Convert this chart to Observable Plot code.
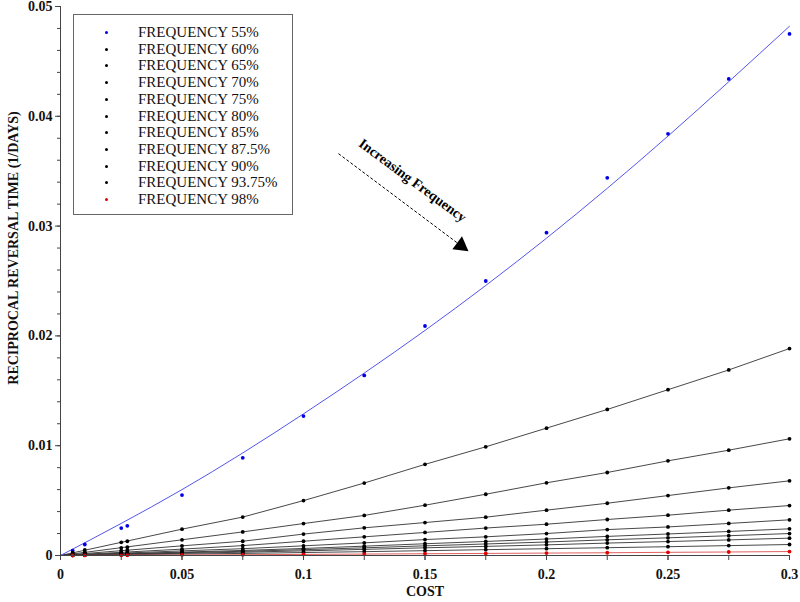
<!DOCTYPE html>
<html>
<head>
<meta charset="utf-8">
<script src="https://cdn.jsdelivr.net/npm/d3@7"></script>
<script src="https://cdn.jsdelivr.net/npm/@observablehq/plot@0.6"></script>
<style>
  html, body { margin: 0; padding: 0; background: #fff; }
  #wrap { position: relative; width: 800px; height: 602px; font-family: "Liberation Serif", "Times New Roman", serif; }
  #legend { position: absolute; left: 73px; top: 14px; width: 220px; height: 201px; border: 1px solid #666; background: #fff; box-sizing: border-box; }
  .row { position: absolute; left: 0; height: 16px; width: 100%; }
  .row .dot { position: absolute; left: 31px; top: 7px; width: 3px; height: 3px; border-radius: 50%; }
  .row .lab { position: absolute; left: 64px; top: -1px; font-size: 15px; line-height: 18px; color: #111; white-space: nowrap; }
  #ylab { position: absolute; left: 14px; top: 248px; transform: translate(-50%, -50%) rotate(-90deg); font-weight: bold; font-size: 14px; white-space: nowrap; color: #111; }
  #xlab { position: absolute; left: 425px; top: 584px; transform: translateX(-50%); font-weight: bold; font-size: 14px; color: #111; }
</style>
</head>
<body>
<div id="wrap">
  <div id="chart"></div>
  <div id="legend"></div>
  <div id="ylab">RECIPROCAL REVERSAL TIME (1/DAYS)</div>
  <div id="xlab">COST</div>
</div>
<script>
// ---- data ----
const costs = [0.005, 0.01, 0.025, 0.0275, 0.05, 0.075, 0.1, 0.125, 0.15, 0.175, 0.2, 0.225, 0.25, 0.275, 0.3];

const freq55   = [0.00045, 0.001, 0.0025, 0.0027, 0.0055, 0.0089, 0.0127, 0.0164, 0.0209, 0.025, 0.0294, 0.0344, 0.0384, 0.0434, 0.0475];
const freq60   = [0.00025, 0.0005, 0.0012, 0.0013, 0.0024, 0.0035, 0.0050, 0.0066, 0.0083, 0.0099, 0.0116, 0.0133, 0.0151, 0.0169, 0.01885];
const freq65   = [0.00015, 0.0003, 0.0007, 0.00075, 0.00143, 0.00215, 0.00291, 0.00365, 0.00458, 0.00558, 0.00662, 0.00756, 0.00862, 0.00959, 0.01063];
const freq70   = [0.00009, 0.00018, 0.00044, 0.00048, 0.00088, 0.0013, 0.00195, 0.00252, 0.003, 0.00349, 0.00413, 0.00476, 0.00546, 0.00616, 0.0068];
const freq75   = [0.00006, 0.00012, 0.0003, 0.00032, 0.00058, 0.0009, 0.0013, 0.0017, 0.0021, 0.0025, 0.00285, 0.00328, 0.00367, 0.00413, 0.00455];
const freq80   = [0.00004, 0.00009, 0.00021, 0.00023, 0.00042, 0.00062, 0.00088, 0.00115, 0.00145, 0.0017, 0.002, 0.00236, 0.0026, 0.00292, 0.00325];
const freq85   = [0.00003, 0.00007, 0.00016, 0.00017, 0.00031, 0.00046, 0.00064, 0.00085, 0.00107, 0.00128, 0.0015, 0.00174, 0.00196, 0.00219, 0.00243];
const freq875  = [0.00003, 0.00005, 0.00013, 0.00014, 0.00026, 0.00038, 0.00053, 0.0007, 0.00088, 0.00105, 0.00123, 0.00143, 0.00161, 0.0018, 0.002];
const freq90   = [0.00002, 0.00004, 0.0001, 0.00011, 0.0002, 0.0003, 0.00042, 0.00056, 0.0007, 0.00083, 0.00097, 0.00113, 0.00127, 0.00142, 0.00158];
const freq9375 = [0.00001, 0.00003, 0.00006, 0.00007, 0.00013, 0.00019, 0.00027, 0.00035, 0.00044, 0.00053, 0.00062, 0.00071, 0.0008, 0.0009, 0.001];
const freq98   = [0.000005, 0.00001, 0.00002, 0.000025, 0.00005, 0.00007, 0.0001, 0.00013, 0.00016, 0.00019, 0.00022, 0.00025, 0.00029, 0.00032, 0.00036];

// fitted curve for the 55% series
const fitCost = [0, 0.05, 0.1, 0.15, 0.2, 0.25, 0.3];
const fit55   = [0, 0.006, 0.0129, 0.0205, 0.0289, 0.0382, 0.0482];

const seriesNames = ["FREQUENCY 55%", "FREQUENCY 60%", "FREQUENCY 65%", "FREQUENCY 70%", "FREQUENCY 75%", "FREQUENCY 80%", "FREQUENCY 85%", "FREQUENCY 87.5%", "FREQUENCY 90%", "FREQUENCY 93.75%", "FREQUENCY 98%"];
const seriesValues = [freq55, freq60, freq65, freq70, freq75, freq80, freq85, freq875, freq90, freq9375, freq98];
const seriesColors = ["#0000e6", "#000000", "#000000", "#000000", "#000000", "#000000", "#000000", "#000000", "#000000", "#000000", "#e00000"];
const lineColors   = ["#5555ee", "#333333", "#333333", "#333333", "#333333", "#333333", "#333333", "#333333", "#333333", "#333333", "#e06060"];

const xTicks = [0, 0.05, 0.1, 0.15, 0.2, 0.25, 0.3];
const xMinorTicks = [0, 0.025, 0.05, 0.075, 0.1, 0.125, 0.15, 0.175, 0.2, 0.225, 0.25, 0.275, 0.3];
const yTicks = [0, 0.01, 0.02, 0.03, 0.04, 0.05];
const yMinorTicks = d3.range(0, 26).map(i => i * 0.002);

// annotation (cost, value) positions
const annoText = [{x: 0.1449, y: 0.03415, label: "Increasing Frequency"}];
const annoArrow = [{x1: 0.1144, y1: 0.0366, x2: 0.1640, y2: 0.02835}];
const annoHead = [{x: 0.1648, y: 0.02822}];

// ---- build tables ----
const points = [];
const lineRows = [];
seriesValues.forEach((vals, s) => {
  vals.forEach((v, i) => points.push({s, cost: costs[i], v}));
  if (s > 0) {
    lineRows.push({s, cost: 0, v: 0});
    vals.forEach((v, i) => { if (costs[i] >= 0.05) lineRows.push({s, cost: costs[i], v}); });
  }
});
const fitRows = fitCost.map((c, i) => ({cost: c, v: fit55[i]}));

const fmt = d => String(+d.toFixed(4));

const chart = Plot.plot({
  width: 800,
  height: 602,
  marginLeft: 60,
  marginRight: 11,
  marginTop: 6,
  marginBottom: 47,
  style: {fontFamily: "'Liberation Serif', 'Times New Roman', serif", fontSize: "14px", fontWeight: "bold", color: "#111", background: "#fff"},
  x: {domain: [0, 0.3]},
  y: {domain: [0, 0.05]},
  marks: [
    Plot.line(lineRows.filter(d => d.s !== 10), {x: "cost", y: "v", z: "s", stroke: "#333", strokeWidth: 0.9}),
    Plot.line(lineRows.filter(d => d.s === 10), {x: "cost", y: "v", stroke: lineColors[10], strokeWidth: 1}),
    Plot.line(fitRows, {x: "cost", y: "v", stroke: lineColors[0], strokeWidth: 1, curve: "natural"}),
    Plot.dot(points, {x: "cost", y: "v", r: 1.9, fill: d => seriesColors[d.s], stroke: "none"}),
    Plot.ruleX([0], {stroke: "#444"}),
    Plot.ruleY([0], {stroke: "#444"}),
    Plot.axisX(xMinorTicks, {tickSize: 5, stroke: "#444", tickFormat: () => "", label: null}),
    Plot.axisX(xTicks, {tickSize: 5, tickPadding: 9, stroke: "#444", tickFormat: fmt, label: null}),
    Plot.axisY(yMinorTicks, {tickSize: 3, stroke: "#444", tickFormat: () => "", label: null}),
    Plot.axisY(yTicks, {tickSize: 5, tickPadding: 3, stroke: "#444", tickFormat: fmt, label: null}),
    Plot.link(annoArrow, {x1: "x1", y1: "y1", x2: "x2", y2: "y2", stroke: "#000", strokeWidth: 1, strokeDasharray: "3,2"}),
    Plot.dot(annoHead, {x: "x", y: "y", symbol: "triangle", r: 6, fill: "#000", stroke: "none", rotate: 126.5}),
    Plot.text(annoText, {x: "x", y: "y", text: "label", rotate: 36.5, fontSize: 14, fontWeight: "bold", fill: "#000"})
  ]
});
document.getElementById("chart").appendChild(chart);

// ---- legend ----
const legend = document.getElementById("legend");
seriesNames.forEach((name, i) => {
  const row = document.createElement("div");
  row.className = "row";
  row.style.top = (9 + i * 16.7) + "px";
  const dot = document.createElement("span");
  dot.className = "dot";
  dot.style.background = seriesColors[i];
  const lab = document.createElement("span");
  lab.className = "lab";
  lab.textContent = name;
  row.appendChild(dot);
  row.appendChild(lab);
  legend.appendChild(row);
});
</script>
</body>
</html>
